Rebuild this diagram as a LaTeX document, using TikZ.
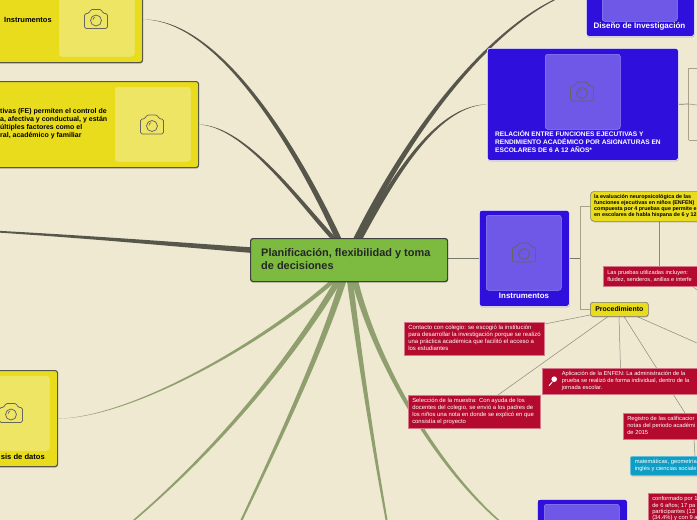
\documentclass[tikz,border=0pt]{standalone}
\usepackage{fontspec}
\setmainfont{Liberation Sans}
\usetikzlibrary{calc,shadows,backgrounds}
\definecolor{paper}{HTML}{EFE9D2}
\definecolor{dk}{HTML}{57564A}
\definecolor{ol}{HTML}{8F9F6D}
\definecolor{yel}{HTML}{E8DC1C}
\definecolor{yelimg}{HTML}{EFE565}
\definecolor{blu}{HTML}{2E0FDC}
\definecolor{bluimg}{HTML}{6F57E8}
\definecolor{rd}{HTML}{B30A2E}
\definecolor{teal2}{HTML}{0E9DC4}
\definecolor{grn}{HTML}{7CBB40}
\definecolor{thin}{HTML}{A8A28C}
\definecolor{camc}{HTML}{66665E}
\newcommand{\taper}[7]{%
\fill[#1] ($(#2)+.25*(#6,#7)$) .. controls ($(#3)+.45*(#6,#7)$) and ($(#4)+.78*(#6,#7)$) .. ($(#5)+(#6,#7)$) -- ($(#5)-(#6,#7)$) .. controls ($(#4)-.78*(#6,#7)$) and ($(#3)-.45*(#6,#7)$) .. ($(#2)-.25*(#6,#7)$) -- cycle;}
\newcommand{\fs}[2]{\fontsize{#1}{#2}\selectfont}
\newcommand{\blocktext}[2]{\makebox[#1][l]{\begin{tabular}{@{}l@{}}#2\end{tabular}}}
\tikzset{
  x=1pt,y=-1pt,
  soft/.style={drop shadow={shadow xshift=0.4pt,shadow yshift=-1pt,opacity=.22,fill=black}},
  sized/.style n args={2}{minimum width=#1,minimum height=#2,inner sep=0pt,anchor=north west},
  ybox/.style={fill=yel,draw=dk,line width=1.1pt,rounded corners=2.5pt,soft},
  yimg/.style={fill=yelimg,draw=yelimg!85!paper,line width=.5pt,rounded corners=2.5pt},
  bbox/.style={fill=blu,draw=white,line width=.6pt,rounded corners=2.5pt,soft},
  bimg/.style={fill=bluimg,draw=bluimg!70!white,line width=.5pt,rounded corners=2.5pt},
  rbox/.style={fill=rd,draw=rd!55!white,line width=.5pt,soft,text=white,anchor=north west,inner xsep=4pt,inner ysep=0pt,font=\fs{5.9}{7}},
  tbox/.style={rbox,fill=teal2,draw=teal2!60!white,inner xsep=4.5pt,rounded corners=1.5pt},
  label/.style={inner sep=0pt,align=left},
  thinline/.style={draw=thin,line width=.7pt},
  cam/.pic={
    \draw[camc,line width=.75pt,rounded corners=1.6pt,line join=round]
      (-11.5,-5.5) -- (-7,-5.5) -- (-5.5,-9.5) -- (5.5,-9.5) -- (7,-5.5) -- (11.5,-5.5) -- (11.5,9.5) -- (-11.5,9.5) -- cycle;
    \draw[camc,line width=.75pt] (0,1.5) circle (5.5pt);
    \draw[camc,line width=.6pt] (-3,1) arc[start angle=180,end angle=110,radius=3.2pt];
  }
}
\begin{document}
\begin{tikzpicture}
\useasboundingbox (0,0) rectangle (697,520);
% main nodes
\node[ybox,sized={197pt}{43pt},fill=grn,line width=1.2pt,draw=black!75] (root) at (250,238) {};
\node[label,anchor=north west,text=black!85,font=\fs{10.95}{12.8}\bfseries] (roottext) at (261,248.3) {Planificación, flexibilidad y toma\\de decisiones};

\node[ybox,sized={242pt}{86pt}] (y1) at (-100,-24) {};
\node[yimg,sized={75pt}{80pt}] (y1i) at (59,-24) {};
\pic at (96,19) {cam};
\node[label,anchor=west,font=\fs{7.5}{8}\bfseries] (y1t) at (4,19.5) {Instrumentos};

\node[ybox,sized={300pt}{86pt}] (y2) at (-102,81) {};
\node[yimg,sized={75pt}{74pt}] (y2i) at (115,87) {};
\pic at (152,124.5) {cam};
\node[label,anchor=north west,font=\fs{7}{8}\bfseries] (y2t) at (0,108.3) {tivas (FE) permiten el control de\\a, afectiva y conductual, y están\\últiples factores como el\\ral, académico y familiar};

\node[ybox,sized={117pt}{96pt}] (y3) at (-60,370) {};
\node[yimg,sized={75pt}{74pt}] (y3i) at (-26,376) {};
\pic at (11,413) {cam};
\node[label,anchor=east,font=\fs{7.6}{8}\bfseries] (y3t) at (45,456.5) {sis de datos};

\node[bbox,sized={108pt}{96pt}] (b1) at (586,-60) {};
\node[bimg,sized={75pt}{75pt}] (b1i) at (602,-54) {};
\node[label,anchor=center,text=white,font=\fs{8}{9}\bfseries] (b1t) at (639.5,26.5) {Diseño de Investigación};

\node[bbox,sized={191pt}{112pt}] (b2) at (487,48) {};
\node[bimg,sized={75pt}{75pt}] (b2i) at (545,54) {};
\pic at (582,91.5) {cam};
\node[label,anchor=north west,text=white,font=\fs{6.6}{8.1}\bfseries] (b2t) at (495,130.5) {RELACIÓN ENTRE FUNCIONES EJECUTIVAS Y\\RENDIMIENTO ACADÉMICO POR ASIGNATURAS EN\\ESCOLARES DE 6 A 12 AÑOS*};

\node[bbox,sized={90pt}{96pt}] (b3) at (479,210) {};
\node[bimg,sized={75pt}{75pt}] (b3i) at (486,215) {};
\pic at (524,252.5) {cam};
\node[label,anchor=center,text=white,font=\fs{7.9}{9}\bfseries] (b3t) at (524,295.5) {Instrumentos};

\node[bbox,sized={90pt}{96pt}] (b4) at (537,499) {};
\node[bimg,sized={75pt}{75pt}] (b4i) at (544,504) {};

\node[ybox,sized={130pt}{30pt},line width=.6pt,draw=dk!70,rounded corners=4pt] (ev) at (590,191) {};
\node[label,anchor=north west,font=\fs{5.4}{6.1}\bfseries] (evt) at (594,194) {la evaluación neuropsicológica de las\\funciones ejecutivas en niños (ENFEN)\\compuesta por 4 pruebas que permite e\\en escolares de habla hispana de 6 y 12};

\node[ybox,sized={58pt}{14pt},line width=.6pt,draw=dk!80,rounded corners=2.5pt,font=\fs{6.9}{8}\bfseries] (proc) at (590,302) {Procedimiento};

\node[rbox,minimum height=20pt,font=\fs{5.7}{7}] (pr) at (603,266) {\blocktext{120pt}{Las pruebas utilizadas incluyen:\\fluidez, senderos, anillas e interfe}};
\node[rbox,minimum height=33pt,font=\fs{6}{7}] (co) at (404,322) {\blocktext{132pt}{Contacto con colegio: se escogió la institución\\para desarrollar la investigación porque se realizó\\una práctica académica que facilitó el acceso a\\los estudiantes}};
\node[rbox,minimum height=33pt] (se) at (408,395) {\blocktext{124pt}{Selección de la muestra: Con ayuda de los\\docentes del colegio, se envió a los padres de\\los niños una nota en donde se explicó en que\\consistía el proyecto}};
\node[rbox,minimum height=26pt,font=\fs{5.75}{7.2}] (ap) at (542,368) {\makebox[170pt][l]{\hspace*{15.5pt}\begin{tabular}{@{}l@{}}Aplicación de la ENFEN: La administración de la\\prueba se realizó de forma individual, dentro de la\\jornada escolar.\end{tabular}}};
\fill[white] (554.2,379.2) circle (2.8pt);
\draw[white,line width=1pt,line cap=round] (552.2,382) -- (549.2,385.5);
\node[rbox,minimum height=26pt,font=\fs{5.8}{6.9}] (re) at (623,413) {\blocktext{100pt}{Registro de las calificacior\\notas del periodo académi\\de 2015}};
\node[tbox,minimum height=19pt,font=\fs{5.8}{6.8}] (te) at (630,456) {\blocktext{100pt}{matemáticas, geometría\\inglés y ciencias sociale}};
\node[rbox,minimum height=31.6pt,font=\fs{5.8}{6.35}] (cf) at (648,493) {\blocktext{100pt}{conformado por 1\\de 6 años; 17 pa\\participantes (13\\(34.4\%) y con 9 a}};

% named connector ends
\coordinate (ltop) at (-40,229.5);
\coordinate (rl) at (250,250);
\coordinate (rt1) at (338,238);
\coordinate (rt2) at (333,238);
\coordinate (rt3) at (357,238);
\coordinate (rt4) at (360,238);
\coordinate (rb1) at (333,281);
\coordinate (rb2) at (338,281);
\coordinate (rb3) at (343,281);
\coordinate (rb4) at (350,281);
\coordinate (rb5) at (355,281);
\coordinate (off2) at (100,548);
\coordinate (off3) at (225,555);
\coordinate (off4) at (393,555);
\coordinate (edgeA) at (697,343);
\coordinate (edgeB) at (697,290);
\coordinate (pra) at (692,286);
\coordinate (rootE) at (447,258);
\coordinate (b3W) at (479,258);
\coordinate (b3E) at (569,258);
\coordinate (j1) at (580,258);
\coordinate (j1a) at (580,206);
\coordinate (j1b) at (580,309);
\coordinate (j2) at (688.5,104);
\coordinate (j2a) at (688.5,68);
\coordinate (j2b) at (688.5,140);
\coordinate (r1) at (697,68);
\coordinate (r2) at (697,105);
\coordinate (r3) at (697,140);
\coordinate (pA) at (590,315);
\coordinate (pB) at (608,316.5);
\coordinate (pC) at (619,316.5);
\coordinate (pD) at (624,316.5);
\coordinate (pE) at (637,316.5);
\coordinate (coE) at (544.5,324);
\coordinate (seN) at (498,395);
\coordinate (apN) at (620.5,368);
\coordinate (reN) at (685,413);
\coordinate (reS) at (694,439);
\coordinate (teN) at (695,456);
\coordinate (evS) at (659,221);
\coordinate (prN) at (659,266);

\begin{pgfonlayer}{background}
\fill[paper] (-200,-100) rectangle (900,700);
\taper{dk}{y1.east}{215,19}{290,135}{rt1}{3.2}{0}
\taper{dk}{y2.east}{245,126}{298,200}{rt2}{3}{0}
\taper{dk}{b1.west}{510,5}{420,110}{rt3}{3.4}{0}
\taper{dk}{b2.west}{440,106}{400,165}{rt4}{3}{0}
\taper{dk}{ltop}{80,236}{170,244}{rl}{0}{2.8}
\taper{ol}{y3.east}{130,418}{260,345}{rb1}{3.4}{0}
\taper{ol}{off2}{200,470}{285,370}{rb2}{3.6}{0}
\taper{ol}{off3}{270,460}{318,360}{rb3}{3.4}{0}
\taper{ol}{off4}{375,460}{360,360}{rb4}{3}{0}
\taper{ol}{b4.west}{465,510}{382,385}{rb5}{3.2}{0}
\draw[thinline,draw=dk!80,line width=.6pt] (rootE) -- (b3W);
\draw[thinline,draw=dk!80] (b3E) -- (j1);
\draw[thinline,line width=.9pt] (j1a) -- (j1b);
\draw[thinline,line width=.9pt] (j1a) -- (j1a -| ev.west);
\draw[thinline,line width=.9pt] (j1b) -- (j1b -| proc.west);
\draw[thinline,draw=dk!80] (b2.east) -- (j2);
\draw[thinline] (j2a) -- (j2b);
\draw[thinline] (j2a) -- (r1);
\draw[thinline] (j2) -- (r2);
\draw[thinline] (j2b) -- (r3);
\draw[thinline,draw=dk!70,line width=.5pt] (evS) -- (prN);
\draw[thinline,draw=dk!60,line width=.5pt] (pra) -- (edgeB);
\draw[thinline,draw=dk!70,line width=.5pt] (pA) -- (coE);
\draw[thinline,draw=dk!70,line width=.5pt] (pB) -- (seN);
\draw[thinline,draw=dk!70,line width=.5pt] (pC) -- (apN);
\draw[thinline,draw=dk!70,line width=.5pt] (pD) -- (reN);
\draw[thinline,draw=dk!70,line width=.5pt] (pE) -- (edgeA);
\draw[thinline,draw=dk!70,line width=.5pt] (reS) -- (teN);
\end{pgfonlayer}
\end{tikzpicture}
\end{document}
